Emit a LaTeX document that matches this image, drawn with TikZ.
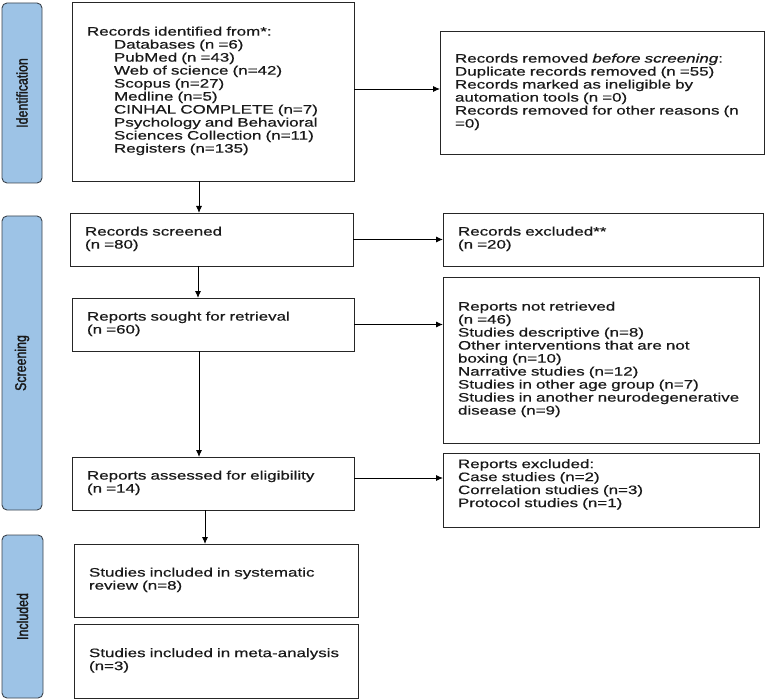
\documentclass[tikz,border=0pt]{standalone}
\usepackage{fontspec}
\setmainfont{Liberation Sans}[FakeStretch=1.38,FakeBold=0.6]
\newfontfamily\sidefont{Liberation Sans}[FakeStretch=0.8,FakeBold=1.8]
\usetikzlibrary{arrows.meta}
\definecolor{barblue}{RGB}{157,195,230}
\definecolor{barline}{RGB}{60,68,78}
\definecolor{txt}{RGB}{25,25,25}
\newcommand\boxlines[1]{\begin{tabular}{@{}l@{}}#1\end{tabular}}
\newcommand\ind{\hspace*{27pt}}
\begin{document}
\begin{tikzpicture}[x=1pt,y=-1pt,
  flowbox/.style={draw=black!85, line width=0.9pt, align=left, inner xsep=15pt, inner ysep=0pt,
    outer sep=0pt, text=txt, font=\fontsize{12.3}{13}\selectfont},
  sidebar/.style={draw=barline, fill=barblue, line width=0.9pt, rounded corners=5pt,
    rotate=90, inner sep=0pt, outer sep=0pt, text=txt, font=\sidefont\fontsize{15.5}{15.5}\selectfont},
  arr/.style={-{Latex[length=7pt,width=6pt]}, line width=0.9pt}]
\useasboundingbox (0,0) rectangle (767,700);

% side bars
\node[sidebar, minimum width=180pt, minimum height=40pt] (barid) at (22,93) {Identification};
\node[sidebar, minimum width=294pt, minimum height=40pt] (barscr) at (22,363) {Screening};
\node[sidebar, minimum width=163pt, minimum height=41pt] (barinc) at (22.5,616.5) {Included};

% boxes
\node[flowbox, text width=252pt, minimum width=282pt, minimum height=179pt] (id) at (213,91.5)
  {\boxlines{Records identified from*:\\
  \ind Databases (n =6)\\
  \ind PubMed (n =43)\\
  \ind Web of science (n=42)\\
  \ind Scopus (n=27)\\
  \ind Medline (n=5)\\
  \ind CINHAL COMPLETE (n=7)\\
  \ind Psychology and Behavioral\\
  \ind Sciences Collection (n=11)\\
  \ind Registers (n=135)}};

\node[flowbox, text width=294pt, minimum width=324pt, minimum height=123pt] (removed) at (602,92.5)
  {\boxlines{Records removed \textit{before screening}:\\
  Duplicate records removed (n =55)\\
  Records marked as ineligible by\\
  automation tools (n =0)\\
  Records removed for other reasons (n\\
  =0)}};

\node[flowbox, text width=253pt, minimum width=283pt, minimum height=53pt] (screened) at (211.5,239.5)
  {\boxlines{Records screened\\(n =80)}};

\node[flowbox, text width=290pt, minimum width=320pt, minimum height=53pt] (excluded) at (603,239.5)
  {\boxlines{Records excluded**\\(n =20)}};

\node[flowbox, text width=252pt, minimum width=282pt, minimum height=53pt] (sought) at (213,324.5)
  {\boxlines{Reports sought for retrieval\\(n =60)}};

\node[flowbox, text width=286pt, minimum width=316pt, minimum height=166pt] (notretr) at (601,360)
  {\boxlines{Reports not retrieved\\
  (n =46)\\
  Studies descriptive (n=8)\\
  Other interventions that are not\\
  boxing (n=10)\\
  Narrative studies (n=12)\\
  Studies in other age group (n=7)\\
  Studies in another neurodegenerative\\
  disease (n=9)}};

\node[flowbox, text width=252pt, minimum width=282pt, minimum height=53pt] (assessed) at (213,483.5)
  {\boxlines{Reports assessed for eligibility\\(n =14)}};

\node[flowbox, text width=286pt, minimum width=316pt, minimum height=74pt] (repexcl) at (601,490)
  {\boxlines{Reports excluded:\\
  Case studies (n=2)\\
  Correlation studies (n=3)\\
  Protocol studies (n=1)\\[10pt]}};

\node[flowbox, text width=254pt, minimum width=284pt, minimum height=73pt] (systematic) at (216,580.5)
  {\boxlines{Studies included in systematic\\review (n=8)}};

\node[flowbox, text width=254pt, minimum width=284pt, minimum height=74pt] (meta) at (216,661)
  {\boxlines{Studies included in meta-analysis\\(n=3)}};

% connectors
\draw[arr] ([yshift=2.5pt]id.east) -- ([yshift=2.5pt]id.east -| removed.west);
\draw[arr] ([xshift=-14pt]id.south) -- ([xshift=-14pt]id.south |- screened.north);
\draw[arr] (screened.east) -- (screened.east -| excluded.west);
\draw[arr] ([xshift=-13.5pt]screened.south) -- ([xshift=-13.5pt]screened.south |- sought.north);
\draw[arr] (sought.east) -- (sought.east -| notretr.west);
\draw[arr] ([xshift=-14pt]sought.south) -- ([xshift=-14pt]sought.south |- assessed.north);
\draw[arr] ([yshift=5.5pt]assessed.east) -- ([yshift=5.5pt]assessed.east -| repexcl.west);
\draw[arr] ([xshift=-8pt]assessed.south) -- ([xshift=-8pt]assessed.south |- systematic.north);
\end{tikzpicture}
\end{document}
